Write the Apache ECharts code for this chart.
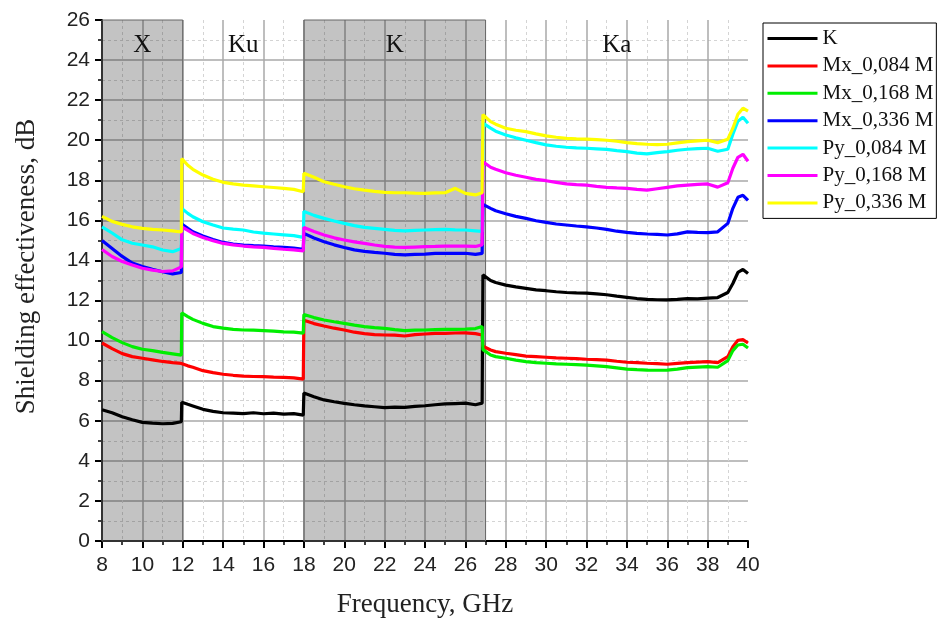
<!DOCTYPE html>
<html>
<head>
<meta charset="utf-8">
<script src="https://cdn.jsdelivr.net/npm/echarts@6/dist/echarts.min.js"></script>
<style>
html,body{margin:0;padding:0;background:#fff;}
#chart{width:938px;height:623px;}
</style>
</head>
<body>
<div id="chart"></div>
<script>
// Frequency points (GHz)
var freq = [
  8, 8.5, 9, 9.5, 10, 10.5, 11, 11.5, 11.93,
  11.95, 12.25, 12.5, 13, 13.5, 14, 14.5, 15, 15.5, 16, 16.5, 17, 17.5, 17.97,
  18.0, 18.5, 19, 19.5, 20, 20.5, 21, 21.5, 22, 22.5, 23, 23.5, 24, 24.5, 25, 25.5, 26, 26.5, 26.83,
  26.87, 27.25, 27.5, 28, 28.5, 29, 29.5, 30, 30.5, 31, 31.5, 32, 32.5, 33, 33.5, 34, 34.5, 35, 35.5, 36, 36.5, 37, 37.5, 38, 38.5, 39, 39.25, 39.5, 39.75, 40
];

var seriesNames = ['K', 'Mx_0,084 M', 'Mx_0,168 M', 'Mx_0,336 M', 'Py_0,084 M', 'Py_0,168 M', 'Py_0,336 M'];

var sK = [
  6.55, 6.4, 6.2, 6.05, 5.92, 5.88, 5.85, 5.87, 5.95,
  6.92, 6.82, 6.74, 6.57, 6.47, 6.4, 6.38, 6.36, 6.4, 6.35, 6.38, 6.33, 6.36, 6.28,
  7.38, 7.2, 7.04, 6.95, 6.87, 6.8, 6.74, 6.7, 6.66, 6.68, 6.67, 6.72, 6.75, 6.8, 6.84, 6.86, 6.88, 6.8, 6.88,
  13.28, 13.0, 12.9, 12.77, 12.68, 12.61, 12.53, 12.49, 12.44, 12.4, 12.38, 12.37, 12.33, 12.29, 12.22, 12.16, 12.1, 12.06, 12.04, 12.03, 12.06, 12.1, 12.08, 12.12, 12.15, 12.4, 12.85, 13.4, 13.55, 13.35
];
var sMx084 = [
  9.88, 9.6, 9.35, 9.2, 9.12, 9.04, 8.96, 8.9, 8.86,
  8.84, 8.74, 8.67, 8.5, 8.4, 8.32, 8.27, 8.23, 8.21, 8.2, 8.18, 8.17, 8.14, 8.08,
  11.02, 10.85, 10.73, 10.62, 10.53, 10.42, 10.35, 10.3, 10.28, 10.27, 10.23, 10.3, 10.33, 10.36, 10.36, 10.38, 10.39, 10.35, 10.28,
  9.72, 9.53, 9.45, 9.37, 9.3, 9.23, 9.2, 9.17, 9.14, 9.12, 9.1, 9.07, 9.05, 9.03, 8.97, 8.92, 8.9, 8.87, 8.85, 8.82, 8.86, 8.9, 8.93, 8.95, 8.9, 9.2, 9.7, 10.02, 10.05, 9.88
];
var sMx168 = [
  10.45, 10.15, 9.9, 9.7, 9.57, 9.5, 9.41, 9.34, 9.28,
  11.38, 11.2, 11.06, 10.86, 10.7, 10.62, 10.56, 10.53, 10.52, 10.5, 10.47, 10.44, 10.42, 10.37,
  11.3, 11.15, 11.03, 10.94, 10.86, 10.77, 10.7, 10.65, 10.61, 10.55, 10.5, 10.52, 10.53, 10.55, 10.56, 10.56, 10.57, 10.6, 10.7,
  9.55, 9.28, 9.2, 9.12, 9.03, 8.95, 8.9, 8.87, 8.84, 8.82, 8.8, 8.78, 8.74, 8.7, 8.64, 8.58, 8.55, 8.53, 8.52, 8.53, 8.58, 8.65, 8.68, 8.7, 8.67, 9.0, 9.5, 9.78, 9.82, 9.63
];
var sMx336 = [
  15.0, 14.6, 14.2, 13.87, 13.7, 13.56, 13.44, 13.33, 13.4,
  15.82, 15.6, 15.43, 15.22, 15.05, 14.9, 14.82, 14.77, 14.74, 14.72, 14.68, 14.65, 14.62, 14.56,
  15.35, 15.12, 14.93, 14.78, 14.65, 14.53, 14.45, 14.4, 14.36, 14.3, 14.28, 14.3, 14.32, 14.35, 14.36, 14.35, 14.36, 14.3, 14.35,
  16.8, 16.6, 16.48, 16.33, 16.2, 16.1, 15.98, 15.9, 15.82, 15.77, 15.72, 15.68, 15.62, 15.55, 15.46, 15.4, 15.35, 15.32, 15.3, 15.27, 15.33, 15.43, 15.4, 15.39, 15.43, 15.85, 16.6, 17.15, 17.25, 17.0
];
var sPy084 = [
  15.68, 15.37, 15.03, 14.86, 14.77, 14.68, 14.52, 14.44, 14.6,
  16.6, 16.35, 16.18, 15.93, 15.77, 15.62, 15.56, 15.52, 15.42, 15.36, 15.32, 15.28, 15.24, 15.15,
  16.45, 16.25, 16.1, 15.97, 15.85, 15.74, 15.65, 15.6, 15.55, 15.5, 15.48, 15.5, 15.52, 15.54, 15.55, 15.53, 15.52, 15.48, 15.45,
  20.85, 20.6, 20.45, 20.26, 20.12, 20.0, 19.88, 19.77, 19.7, 19.65, 19.62, 19.6, 19.57, 19.54, 19.48, 19.43, 19.36, 19.32, 19.38, 19.43, 19.5, 19.55, 19.58, 19.6, 19.45, 19.55, 20.3, 20.95, 21.15, 20.85
];
var sPy168 = [
  14.55, 14.2, 13.95, 13.77, 13.61, 13.52, 13.45, 13.48, 13.68,
  15.68, 15.5, 15.35, 15.15, 14.98, 14.85, 14.78, 14.72, 14.68, 14.65, 14.6, 14.56, 14.53, 14.48,
  15.65, 15.45, 15.27, 15.13, 15.02, 14.93, 14.85, 14.77, 14.7, 14.67, 14.65, 14.67, 14.69, 14.7, 14.72, 14.72, 14.72, 14.7, 14.78,
  18.93, 18.65, 18.55, 18.38, 18.25, 18.15, 18.05, 17.98, 17.9, 17.82, 17.78, 17.76, 17.7, 17.65, 17.62, 17.6, 17.55, 17.51, 17.58, 17.65, 17.72, 17.76, 17.8, 17.82, 17.66, 17.88, 18.6, 19.15, 19.3, 18.95
];
var sPy336 = [
  16.2, 15.95, 15.8, 15.68, 15.6, 15.55, 15.52, 15.48, 15.42,
  19.08, 18.75, 18.55, 18.26, 18.05, 17.9, 17.82, 17.76, 17.72, 17.68, 17.64, 17.6, 17.55, 17.43,
  18.35, 18.15, 17.93, 17.8, 17.68, 17.58, 17.51, 17.45, 17.4, 17.38, 17.38, 17.36, 17.35, 17.37, 17.38, 17.6, 17.35, 17.27, 17.38,
  21.28, 20.93, 20.8, 20.6, 20.5, 20.43, 20.32, 20.22, 20.15, 20.09, 20.07, 20.06, 20.03, 20.0, 19.95, 19.88, 19.83, 19.8, 19.78, 19.8, 19.87, 19.93, 19.97, 20.0, 19.88, 20.05, 20.6, 21.3, 21.6, 21.45
];

// Frequency bands
var bandNames = ['X', 'Ku', 'K', 'Ka'];
var bandEdges = [8, 12, 18, 27, 40];
var bandShaded = [true, false, true, false];

var seriesValues = [sK, sMx084, sMx168, sMx336, sPy084, sPy168, sPy336];
var colors = ['#000000', '#ff0000', '#00ee00', '#0000ff', '#00ffff', '#ff00ff', '#ffff00'];

function pairs(vals) {
  return freq.map(function (f, i) { return [f, vals[i]]; });
}

var bandData = bandNames.map(function (n, i) {
  return [
    {
      name: n,
      xAxis: bandEdges[i],
      itemStyle: bandShaded[i]
        ? { color: 'rgba(0,0,0,0.235)', borderColor: '#666', borderWidth: 1 }
        : { color: 'rgba(0,0,0,0)', borderWidth: 0 }
    },
    { xAxis: bandEdges[i + 1] }
  ];
});

var series = [{
  name: '__bands',
  type: 'line',
  data: [],
  z: 1,
  silent: true,
  markArea: {
    silent: true,
    label: {
      show: true,
      position: 'insideTop',
      distance: 13,
      color: '#111',
      fontFamily: 'Liberation Serif',
      fontSize: 25
    },
    data: bandData
  }
}];

seriesNames.forEach(function (n, i) {
  series.push({
    name: n,
    type: 'line',
    data: pairs(seriesValues[i]),
    symbol: 'none',
    showSymbol: false,
    z: 3,
    lineStyle: { color: colors[i], width: 3.2 },
    itemStyle: { color: colors[i] },
    animation: false
  });
});

var chart = echarts.init(document.getElementById('chart'));
chart.setOption({
  animation: false,
  backgroundColor: '#ffffff',
  grid: { left: 102, right: 190, top: 20, bottom: 82 },
  legend: {
    data: seriesNames,
    orient: 'vertical',
    left: 763,
    top: 23,
    itemWidth: 50,
    itemHeight: 14,
    itemGap: 6.4,
    padding: [5, 3, 5, 3],
    borderColor: '#000',
    borderWidth: 1,
    itemStyle: { opacity: 0 },
    lineStyle: { width: 3 },
    textStyle: { fontFamily: 'Liberation Serif', fontSize: 21, color: '#111' }
  },
  xAxis: {
    type: 'value',
    min: 8,
    max: 40,
    interval: 2,
    minorTick: { show: true, splitNumber: 2, length: 4, lineStyle: { color: '#000', width: 1.5 } },
    axisLine: { onZero: false, lineStyle: { color: '#000', width: 2 } },
    axisTick: { show: true, inside: false, length: 7, lineStyle: { color: '#000', width: 2 } },
    axisLabel: { fontFamily: 'Liberation Sans', fontSize: 21, color: '#222', margin: 14 },
    splitLine: { show: true, showMinLine: false, showMaxLine: false, lineStyle: { color: '#a8a8a8', width: 1.5 } },
    minorSplitLine: { show: true, lineStyle: { color: '#d4d4d4', width: 1, type: [3, 3] } },
    name: 'Frequency, GHz',
    nameLocation: 'middle',
    nameGap: 50,
    nameTextStyle: { fontFamily: 'Liberation Serif', fontSize: 27, color: '#222' }
  },
  yAxis: {
    type: 'value',
    min: 0,
    max: 26,
    interval: 2,
    minorTick: { show: true, splitNumber: 2, length: 4, lineStyle: { color: '#000', width: 1.5 } },
    axisLine: { show: true, lineStyle: { color: '#000', width: 2 } },
    axisTick: { show: true, inside: false, length: 7, lineStyle: { color: '#000', width: 2 } },
    axisLabel: { fontFamily: 'Liberation Sans', fontSize: 21, color: '#222', margin: 12 },
    splitLine: { show: true, showMinLine: false, showMaxLine: false, lineStyle: { color: '#a8a8a8', width: 1.5 } },
    minorSplitLine: { show: true, lineStyle: { color: '#d4d4d4', width: 1, type: [3, 3] } },
    name: 'Shielding effectiveness, dB',
    nameLocation: 'middle',
    nameGap: 62,
    nameTextStyle: { fontFamily: 'Liberation Serif', fontSize: 27, color: '#222', padding: [0, 0, 0, 28] }
  },
  series: series
});
</script>
</body>
</html>
